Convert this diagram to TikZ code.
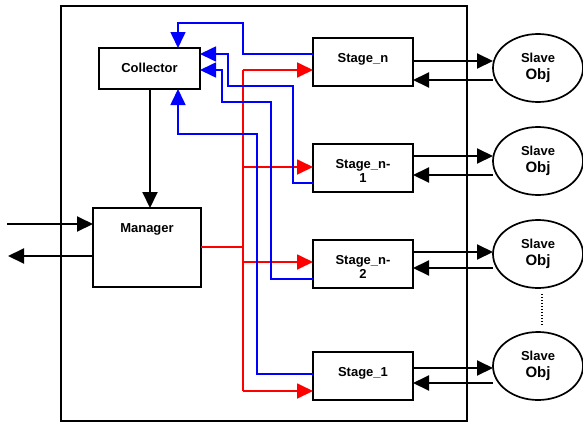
\documentclass[tikz,border=0pt]{standalone}
\usepackage{fontspec}
\setmainfont{Liberation Sans}
\usetikzlibrary{arrows.meta, positioning, shapes.geometric}

\begin{document}
\begin{tikzpicture}[
    x=1pt, y=-1pt,
    >={Triangle[length=16pt, width=15pt]},
    % Boxes inside the frame
    box/.style={
        rectangle, draw=black, line width=2pt, anchor=north west,
        inner sep=0pt, outer sep=0pt
    },
    % Box captions (top aligned)
    boxtxt/.style={
        font=\fontsize{13}{14}\selectfont\bfseries, align=center,
        inner sep=0pt
    },
    % Slave objects
    slave/.style={
        ellipse, draw=black, line width=1.7pt, outer sep=0pt,
        minimum width=90pt, minimum height=68pt, inner sep=0pt,
        align=center, font=\fontsize{13}{17}\selectfont\bfseries
    },
    % Arrows
    blk/.style={->, line width=2pt, black},
    redarr/.style={->, line width=1.8pt, red},
    redline/.style={line width=1.6pt, red},
    bluearr/.style={->, line width=1.6pt, blue},
]
\useasboundingbox (0,0) rectangle (583,423);

% ===== FRAME =====
\draw[line width=1.5pt] (61,6) rectangle (467,421);

% ===== BOXES =====
\node[box, minimum width=101pt, minimum height=41pt] (coll) at (99,48) {};
\node[boxtxt, below=15pt of coll.north] (colltxt) {Collector};

\node[box, minimum width=108pt, minimum height=79pt] (mgr) at (93,208) {};
\node[boxtxt, below=15pt of mgr.north] (mgrtxt) {Manager};

\node[box, minimum width=100pt, minimum height=48pt] (stN) at (313,38) {};
\node[boxtxt, below=15pt of stN.north] (stNtxt) {Stage\_n};

\node[box, minimum width=100pt, minimum height=48pt] (stN1) at (313,144) {};
\node[boxtxt, below=15pt of stN1.north] (stN1txt) {Stage\_n-\\1};

\node[box, minimum width=100pt, minimum height=48pt] (stN2) at (313,240) {};
\node[boxtxt, below=15pt of stN2.north] (stN2txt) {Stage\_n-\\2};

\node[box, minimum width=100pt, minimum height=48pt] (st1) at (313,352) {};
\node[boxtxt, below=15pt of st1.north] (st1txt) {Stage\_1};

% ===== SLAVE OBJECTS =====
\node[slave] (slN) at (538,68) {Slave\\{\fontsize{15}{17}\selectfont Obj}};
\node[slave] (slN1) at (538,161) {Slave\\{\fontsize{15}{17}\selectfont Obj}};
\node[slave] (slN2) at (538,254) {Slave\\{\fontsize{15}{17}\selectfont Obj}};
\node[slave] (sl1) at (538,366) {Slave\\{\fontsize{15}{17}\selectfont Obj}};

\draw[line width=1.2pt, dash pattern=on 1pt off 2pt]
    ([xshift=4pt, yshift=-6pt]slN2.south) -- ([xshift=4pt, yshift=6pt]sl1.north);

% Stage <-> slave
\draw[blk] ([yshift=1pt]stN.east) -- ([yshift=7pt]slN.west);
\draw[blk] ([yshift=-12pt]slN.west) -- ([yshift=-18pt]stN.east);
\draw[blk] ([yshift=12pt]stN1.east) -- ([yshift=5pt]slN1.west);
\draw[blk] ([yshift=-14pt]slN1.west) -- ([yshift=-7pt]stN1.east);
\draw[blk] ([yshift=12pt]stN2.east) -- ([yshift=2pt]slN2.west);
\draw[blk] ([yshift=-14pt]slN2.west) -- ([yshift=-4pt]stN2.east);
\draw[blk] ([yshift=8pt]st1.east) -- ([yshift=-2pt]sl1.west);
\draw[blk] ([yshift=-17pt]sl1.west) -- ([yshift=-7pt]st1.east);

% ===== MANAGER =====
\coordinate (inL) at (7,224);
\coordinate (outL) at (8,256);
\draw[blk] (inL) -- (inL -| mgr.west);
\draw[blk] (outL -| mgr.west) -- (outL);
\draw[blk] ([xshift=0.5pt]coll.south) -- ([xshift=0.5pt]coll.south |- mgr.north);

% Red distribution to the stages
\coordinate (rb) at (243,247);
\coordinate (rN) at ([yshift=-8pt]stN.west);
\coordinate (rN1) at ([yshift=1pt]stN1.west);
\coordinate (rN2) at ([yshift=2pt]stN2.west);
\coordinate (r1) at ([yshift=-15pt]st1.west);
\draw[line width=1.4pt, red] (mgr.east |- rb) -- (rb);
\draw[redline] (rb |- rN) -- (rb |- r1);
\draw[redarr] (rb |- rN) -- (rN);
\draw[redarr] (rb |- rN1) -- (rN1);
\draw[redarr] (rb |- rN2) -- (rN2);
\draw[redarr] (rb |- r1) -- (r1);

% Blue returns to the collector
\draw[bluearr] ([yshift=8pt]stN.west) -- ++(-70,0) -- ++(0,-31)
    -| ([xshift=28.5pt]coll.north);
\draw[bluearr] ([yshift=-15pt]stN1.west) -- ++(-20,0) -- ++(0,-97)
    -- ++(-65,0) |- ([yshift=14.5pt]coll.east);
\draw[bluearr] ([yshift=-15pt]stN2.west) -- ++(-42,0) -- ++(0,-177)
    -- ++(-49,0) |- ([yshift=-1.5pt]coll.east);
\draw[bluearr] ([yshift=2pt]st1.west) -- ++(-56,0) -- ++(0,-240)
    -| ([xshift=28.5pt]coll.south);

\end{tikzpicture}
\end{document}
